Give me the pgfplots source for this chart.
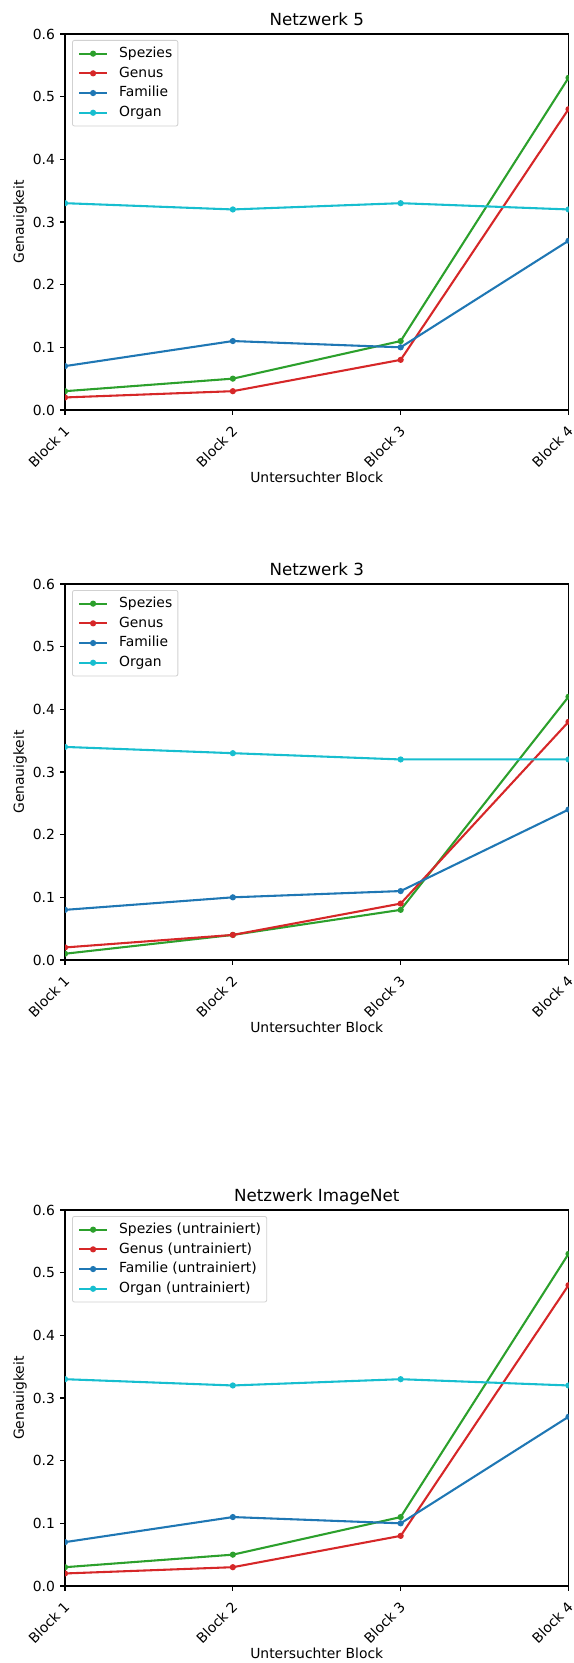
\documentclass[border=0pt]{standalone}
\usepackage{fontspec}
\setmainfont{DejaVu Sans}
\usepackage{pgfplots}
\pgfplotsset{compat=1.18}
\usepackage{pgfplotstable}

\definecolor{tabgreen}{HTML}{2CA02C}
\definecolor{tabred}{HTML}{D62728}
\definecolor{tabblue}{HTML}{1F77B4}
\definecolor{tabcyan}{HTML}{17BECF}

% Netzwerk 5
\pgfplotstableread{
x spezies genus familie organ
0 0.03 0.02 0.07 0.33
1 0.05 0.03 0.11 0.32
2 0.11 0.08 0.10 0.33
3 0.53 0.48 0.27 0.32
}\netzfuenf
% Netzwerk 3
\pgfplotstableread{
x spezies genus familie organ
0 0.01 0.02 0.08 0.34
1 0.04 0.04 0.10 0.33
2 0.08 0.09 0.11 0.32
3 0.42 0.38 0.24 0.32
}\netzdrei
% Netzwerk ImageNet
\pgfplotstableread{
x spezies genus familie organ
0 0.03 0.02 0.07 0.33
1 0.05 0.03 0.11 0.32
2 0.11 0.08 0.10 0.33
3 0.53 0.48 0.27 0.32
}\netzimg

\newcommand{\fnorm}{\fontsize{13.9bp}{16.7bp}\selectfont}
\newcommand{\ftitle}{\fontsize{16.7bp}{20bp}\selectfont}

\pgfplotsset{
  myax/.style={
    scale only axis,
    width=503.5bp, height=376bp,
    anchor=south west,
    xmin=0, xmax=3, ymin=0, ymax=0.6,
    xtick={0,1,2,3},
    xticklabels={Block 1,Block 2,Block 3,Block 4},
    ytick={0,0.1,0.2,0.3,0.4,0.5,0.6},
    /pgf/number format/fixed,
    /pgf/number format/fixed zerofill,
    /pgf/number format/precision=1,
    /pgf/number format/assume math mode=true,
    tick pos=left,
    tick align=outside,
    major tick length=4.9bp,
    every tick/.style={black, line width=1.1bp},
    axis line style={line width=1.1bp},
    tick label style={font=\fnorm},
    yticklabel style={inner sep=0bp, anchor=east, xshift=-4.9bp},
    xticklabel style={inner sep=0bp, xshift=-2bp, yshift=-9.5bp, rotate=45, anchor=north east},
    label style={font=\fnorm},
    xlabel={Untersuchter Block},
    ylabel={Genauigkeit},
    xlabel style={at={(axis description cs:0.5,-0.178)}, anchor=center},
    ylabel style={at={(axis description cs:-0.0894,0.5)}, anchor=center},
    title style={font=\ftitle, at={(axis description cs:0.5,1.007)}, anchor=base},
    clip marker paths=true,
    every axis plot/.append style={line width=2.08bp, mark=*, mark size=2bp, mark options={solid}},
    legend cell align=left,
    legend image code/.code={\draw[mark repeat=2,mark phase=2] plot coordinates {(0bp,0bp)(14bp,0bp)(28bp,0bp)};},
    legend style={at={(axis description cs:0.014,0.984)}, anchor=north west,
      draw=black!18, line width=0.8bp, rounded corners=2bp, fill=white,
      font=\fnorm, inner xsep=5.6bp, inner ysep=6.5bp, row sep=6.2bp,
      nodes={inner sep=0bp, text height=10.5bp, text depth=3bp},
      /tikz/every odd column/.append style={column sep=11bp}},
  }
}

\begin{document}
\begin{tikzpicture}
\path[use as bounding box] (0,0) rectangle (574bp,1663bp);

\begin{axis}[myax, at={(65bp,1253bp)}, title={Netzwerk 5}]
\addplot[tabgreen] table[x=x,y=spezies] {\netzfuenf};
\addplot[tabred] table[x=x,y=genus] {\netzfuenf};
\addplot[tabblue] table[x=x,y=familie] {\netzfuenf};
\addplot[tabcyan] table[x=x,y=organ] {\netzfuenf};
\legend{Spezies,Genus,Familie,Organ}
\end{axis}

\begin{axis}[myax, at={(65bp,703bp)}, title={Netzwerk 3}]
\addplot[tabgreen] table[x=x,y=spezies] {\netzdrei};
\addplot[tabred] table[x=x,y=genus] {\netzdrei};
\addplot[tabblue] table[x=x,y=familie] {\netzdrei};
\addplot[tabcyan] table[x=x,y=organ] {\netzdrei};
\legend{Spezies,Genus,Familie,Organ}
\end{axis}

\begin{axis}[myax, at={(65bp,77bp)}, title={Netzwerk ImageNet}]
\addplot[tabgreen] table[x=x,y=spezies] {\netzimg};
\addplot[tabred] table[x=x,y=genus] {\netzimg};
\addplot[tabblue] table[x=x,y=familie] {\netzimg};
\addplot[tabcyan] table[x=x,y=organ] {\netzimg};
\legend{Spezies (untrainiert),Genus (untrainiert),Familie (untrainiert),Organ (untrainiert)}
\end{axis}
\end{tikzpicture}
\end{document}
